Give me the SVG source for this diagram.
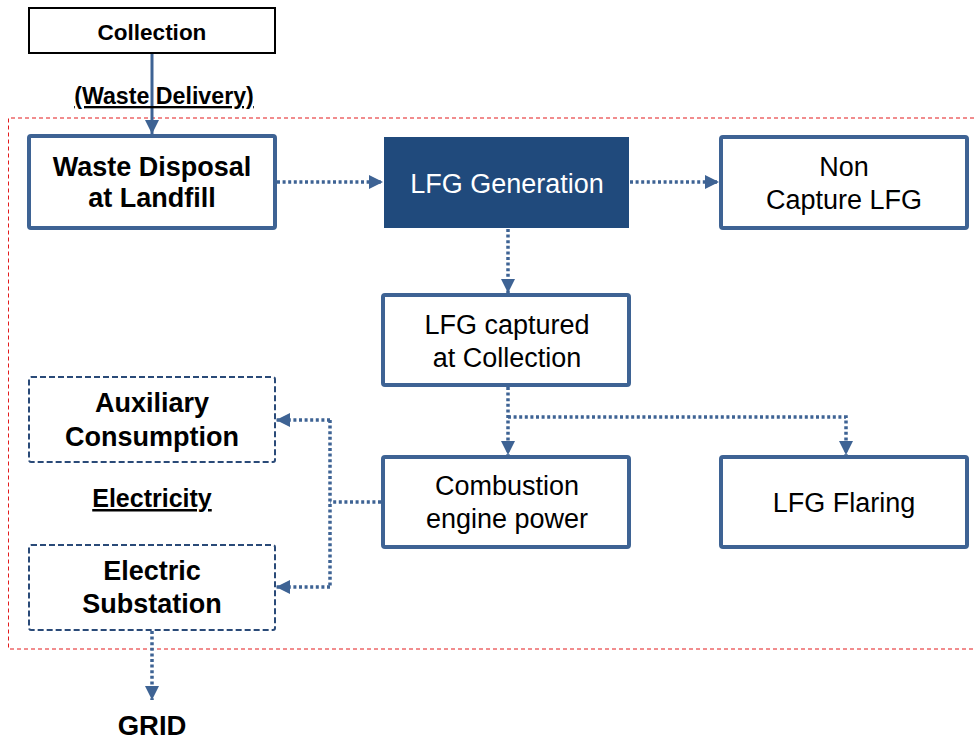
<svg xmlns="http://www.w3.org/2000/svg" width="974" height="740" viewBox="0 0 974 740">
<style>
text{font-family:"Liberation Sans",Arial,sans-serif;text-anchor:middle;fill:#000}
.b{font-weight:bold}
.n{font-size:27px}
.box{fill:#fff;stroke:#3e6394;stroke-width:4}
.dbox{fill:#fff;stroke:#2a4a78;stroke-width:2;stroke-dasharray:6 3}
.dot{fill:none;stroke:#3e6394;stroke-width:3.5;stroke-dasharray:3 2.6}
.sol{fill:none;stroke:#3e6394;stroke-width:3}
</style>
<defs>
<marker id="ah" viewBox="0 0 10 10" refX="10" refY="5" markerWidth="14" markerHeight="14" markerUnits="userSpaceOnUse" orient="auto">
<path d="M0,0 L10,5 L0,10 z" fill="#3e6394"/>
</marker>
</defs>
<g id="boundary">
<path d="M974,118 H8.5 V649 H974" fill="none" stroke="#e31a1c" stroke-width="1" stroke-dasharray="4 3"/>
</g>
<g id="connectors">
<line class="sol" x1="152" y1="53" x2="152" y2="134" marker-end="url(#ah)"/>
<line class="dot" x1="277" y1="182" x2="383" y2="182" marker-end="url(#ah)"/>
<line class="dot" x1="630" y1="182" x2="719" y2="182" marker-end="url(#ah)"/>
<line class="dot" x1="508" y1="229" x2="508" y2="293" marker-end="url(#ah)"/>
<line class="dot" x1="508" y1="387" x2="508" y2="455" marker-end="url(#ah)"/>
<polyline class="dot" points="508,417 846,417 846,455" marker-end="url(#ah)"/>
<line class="dot" x1="381" y1="502" x2="330" y2="502"/>
<polyline class="dot" points="330,420 330,587"/>
<line class="dot" x1="330" y1="420" x2="276" y2="420" marker-end="url(#ah)"/>
<line class="dot" x1="330" y1="587" x2="276" y2="587" marker-end="url(#ah)"/>
<line class="dot" x1="152" y1="631" x2="152" y2="700" marker-end="url(#ah)"/>
</g>
<g id="collection">
<rect x="29" y="8" width="246" height="45" fill="#fff" stroke="#000" stroke-width="2"/>
<text class="b" x="152" y="40" font-size="22.5">Collection</text>
</g>
<g id="waste-delivery">
<text class="b" x="164" y="104" font-size="23.2" text-decoration="underline">(Waste Delivery)</text>
</g>
<g id="waste-disposal">
<rect class="box" x="29" y="136" width="246" height="92" rx="2"/>
<text class="b n" x="152" y="176">Waste Disposal</text>
<text class="b n" x="152" y="207">at Landfill</text>
</g>
<g id="lfg-generation">
<rect x="384" y="137" width="245" height="91" fill="#204a7c"/>
<text class="n" x="507" y="193" style="fill:#fff">LFG Generation</text>
</g>
<g id="non-capture">
<rect class="box" x="721" y="137" width="246" height="91" rx="2"/>
<text class="n" x="844" y="176">Non</text>
<text class="n" x="844" y="209">Capture LFG</text>
</g>
<g id="lfg-captured">
<rect class="box" x="383" y="295" width="246" height="90" rx="2"/>
<text class="n" x="507" y="334">LFG captured</text>
<text class="n" x="507" y="367">at Collection</text>
</g>
<g id="combustion">
<rect class="box" x="383" y="457" width="246" height="90" rx="2"/>
<text class="n" x="507" y="495">Combustion</text>
<text class="n" x="507" y="528">engine power</text>
</g>
<g id="lfg-flaring">
<rect class="box" x="721" y="457" width="246" height="90" rx="2"/>
<text class="n" x="844" y="512">LFG Flaring</text>
</g>
<g id="auxiliary">
<rect class="dbox" x="29" y="377" width="246" height="85" rx="2"/>
<text class="b n" x="152" y="412">Auxiliary</text>
<text class="b n" x="152" y="446">Consumption</text>
</g>
<g id="electricity">
<text class="b" x="152" y="507" font-size="25" text-decoration="underline">Electricity</text>
</g>
<g id="substation">
<rect class="dbox" x="29" y="545" width="246" height="85" rx="2"/>
<text class="b n" x="152" y="580">Electric</text>
<text class="b n" x="152" y="613">Substation</text>
</g>
<g id="grid">
<text class="b" x="152" y="735" font-size="27.5">GRID</text>
</g>
</svg>
